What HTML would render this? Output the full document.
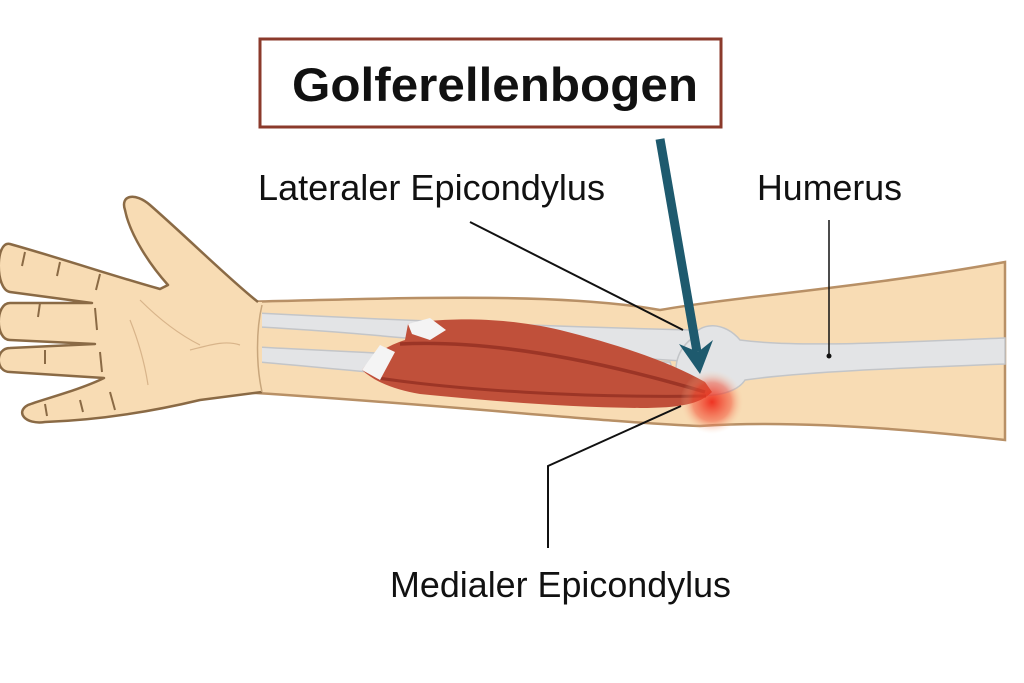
<!DOCTYPE html>
<html><head><meta charset="utf-8"><style>
html,body{margin:0;padding:0;background:#fff;}
svg{display:block;}
text{font-family:"Liberation Sans",sans-serif;}
</style></head><body>
<svg width="1024" height="683" viewBox="0 0 1024 683" xmlns="http://www.w3.org/2000/svg">
<defs>
<radialGradient id="glow" cx="0.5" cy="0.5" r="0.5">
<stop offset="0" stop-color="#ee2a1a" stop-opacity="0.95"/>
<stop offset="0.6" stop-color="#f24a30" stop-opacity="0.5"/>
<stop offset="1" stop-color="#f8dcb4" stop-opacity="0"/>
</radialGradient>
</defs>
<rect width="1024" height="683" fill="#fff"/>
<!-- forearm + upper arm -->
<path d="M240,302 C400,298 560,292 660,310 C740,296 860,288 1005,262 L1005,440 C900,428 790,420 700,426 C600,422 450,405 240,392 Z" fill="#f8dcb4" stroke="#b89066" stroke-width="2.5"/>
<!-- bones -->
<path d="M237,312 C350,318 500,325 690,330 L700,362 C520,352 380,332 237,326 Z" fill="#e3e4e6" stroke="#c3c5c8" stroke-width="1.5"/>
<path d="M237,346 C360,352 520,362 670,362 L680,392 C520,390 380,372 237,360 Z" fill="#e3e4e6" stroke="#c3c5c8" stroke-width="1.5"/>
<path d="M690,340 C700,320 725,322 740,340 C800,348 900,342 1005,338 L1005,364 C900,368 800,372 745,380 C735,396 700,400 680,390 C672,370 676,352 690,340 Z" fill="#e3e4e6" stroke="#c3c5c8" stroke-width="1.5"/>
<!-- muscle -->
<path d="M408,324 C440,318 500,316 560,330 C620,345 670,362 705,382 L712,392 C700,404 680,408 640,408 C560,407 480,400 420,394 C395,390 375,382 362,370 C375,352 390,345 405,340 Z" fill="#c0503a"/>
<path d="M400,344 C480,340 580,355 705,392" fill="none" stroke="#9c3526" stroke-width="3.5"/>
<path d="M378,378 C460,390 580,398 706,396" fill="none" stroke="#9c3526" stroke-width="3"/>
<path d="M408,324 L430,318 L446,330 L430,340 L412,334 Z" fill="#f4f4f4"/>
<path d="M362,370 L380,345 L395,352 L380,380 Z" fill="#f4f4f4"/>
<circle cx="712" cy="402" r="32" fill="url(#glow)"/>
<!-- hand -->
<path d="M258,302 C230,280 190,240 150,205 C135,192 120,195 125,210 C130,235 150,265 168,285 L160,289 C120,278 60,258 10,244 C-5,240 -5,290 10,292 L92,303 L10,303 C-5,303 -5,340 10,340 L95,344 L10,348 C-5,348 -5,372 10,372 L104,378 C80,390 40,400 28,405 C15,412 25,425 45,422 C100,420 150,412 200,400 L262,392 L262,302 Z" fill="#f8dcb4"/>
<path d="M258,302 C230,280 190,240 150,205 C135,192 120,195 125,210 C130,235 150,265 168,285 L160,289 C120,278 60,258 10,244 C-5,240 -5,290 10,292 L92,303 L10,303 C-5,303 -5,340 10,340 L95,344 L10,348 C-5,348 -5,372 10,372 L104,378 C80,390 40,400 28,405 C15,412 25,425 45,422 C100,420 150,412 200,400 L262,392" fill="none" stroke="#8a6a45" stroke-width="2.5" stroke-linejoin="round"/>
<path d="M262,305 C256,330 256,365 262,392" fill="none" stroke="#c8a67c" stroke-width="1.5"/>
<g stroke="#8a6a45" stroke-width="2" fill="none">
<path d="M25,252 l-3,14 M60,262 l-3,14 M100,274 l-4,16"/>
<path d="M40,303 l-2,14 M95,308 l2,22"/>
<path d="M45,350 l0,14 M100,352 l2,20"/>
<path d="M45,404 l2,12 M80,400 l3,12 M110,392 l5,18"/>
</g>
<g stroke="#d8b48a" stroke-width="1.2" fill="none">
<path d="M140,300 C160,320 180,335 200,345"/>
<path d="M130,320 C140,345 145,365 148,385"/>
<path d="M190,350 C210,345 225,340 240,345"/>
</g>
<!-- title box -->
<rect x="260" y="39" width="461" height="88" fill="#fff" stroke="#8b3a2b" stroke-width="3"/>
<text x="292" y="101" font-size="47" font-weight="bold" textLength="406" lengthAdjust="spacingAndGlyphs" fill="#111">Golferellenbogen</text>
<!-- arrow -->
<line x1="660" y1="139" x2="697" y2="352" stroke="#1e5a6e" stroke-width="9"/>
<path d="M679,344 L700,374 L713,340 L698,352 Z" fill="#1e5a6e"/>
<!-- labels -->
<text x="258" y="200" font-size="36" textLength="347" lengthAdjust="spacingAndGlyphs" fill="#111">Lateraler Epicondylus</text>
<text x="757" y="200" font-size="36" textLength="145" lengthAdjust="spacingAndGlyphs" fill="#111">Humerus</text>
<text x="390" y="597" font-size="36" textLength="341" lengthAdjust="spacingAndGlyphs" fill="#111">Medialer Epicondylus</text>
<line x1="470" y1="222" x2="683" y2="330" stroke="#111" stroke-width="2"/>
<line x1="829" y1="220" x2="829" y2="356" stroke="#111" stroke-width="1.5"/>
<circle cx="829" cy="356" r="2.5" fill="#111"/>
<polyline points="681,406 548,466 548,548" fill="none" stroke="#111" stroke-width="2"/>
</svg>
</body></html>
